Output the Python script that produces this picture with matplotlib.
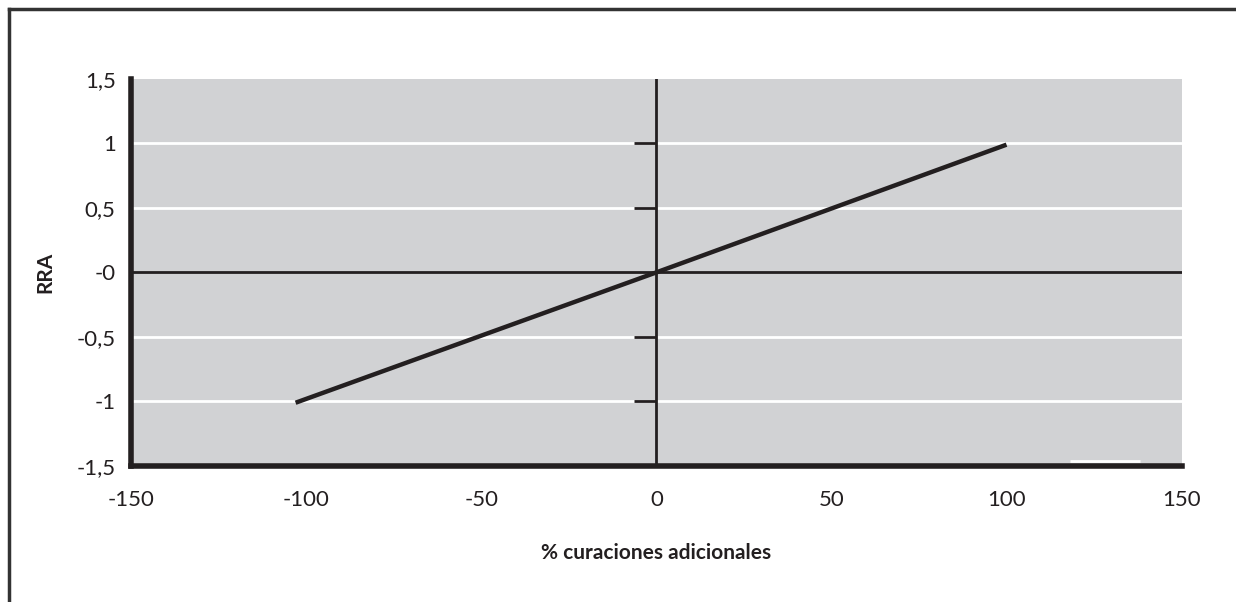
import matplotlib
matplotlib.use("Agg")
import matplotlib.pyplot as plt
from matplotlib.lines import Line2D

plt.rcParams['font.family'] = ['Lato', 'DejaVu Sans']

# data
x_vals = [-103, 0, 100]
rra = [-1.01, 0.0, 0.99]

x_ticks = [-150, -100, -50, 0, 50, 100, 150]
x_labels = ['-150', '-100', '-50', '0', '50', '100', '150']
y_ticks = [1.5, 1, 0.5, 0, -0.5, -1, -1.5]
y_labels = ['1,5', '1', '0,5', '-0', '-0,5', '-1', '-1,5']
grid_y = [1, 0.5, -0.5, -1]
center_ticks = [1, 0.5, -0.5, -1]

ink = '#231f20'
gray = '#d1d2d4'

fig = plt.figure(figsize=(12.36, 6.02), dpi=100)
ax = fig.add_axes([0.106, 0.226, 0.850, 0.643])
ax.set_facecolor(gray)

# outer frame (top and left edges only visible)
fig.add_artist(Line2D([0.0073, 0.0073], [0, 0.985], transform=fig.transFigure, color='#333333', lw=2.5))
fig.add_artist(Line2D([0.0073, 1.0], [0.985, 0.985], transform=fig.transFigure, color='#333333', lw=2.5))

for g in grid_y:
    ax.axhline(g, color='white', lw=2, zorder=1)
ax.hlines(-1.465, 118, 138, color='white', lw=2, zorder=1)

ax.axhline(0, color=ink, lw=2, zorder=2)
ax.axvline(0, color=ink, lw=2, zorder=2)
ax.hlines(center_ticks, -6.3, 0, color=ink, lw=2, zorder=2)

ax.plot(x_vals, rra, color=ink, lw=3.2, solid_capstyle='butt', zorder=3)

ax.set_xlim(-150, 150)
ax.set_ylim(-1.5, 1.5)
ax.set_xticks(x_ticks)
ax.set_xticklabels(x_labels)
ax.set_yticks(y_ticks)
ax.set_yticklabels(y_labels)
ax.tick_params(length=0, labelsize=16, colors=ink)
ax.tick_params(axis='x', pad=17)
ax.tick_params(axis='y', pad=11)

for s in ['top', 'right']:
    ax.spines[s].set_visible(False)
for s in ['left', 'bottom']:
    ax.spines[s].set_linewidth(4)
    ax.spines[s].set_color(ink)

ax.set_ylabel('RRA', fontsize=15, fontweight='bold', color=ink, labelpad=15)
ax.set_xlabel('% curaciones adicionales', fontsize=15, fontweight='bold', color=ink, labelpad=24)

fig.savefig('out.png', dpi=100)
